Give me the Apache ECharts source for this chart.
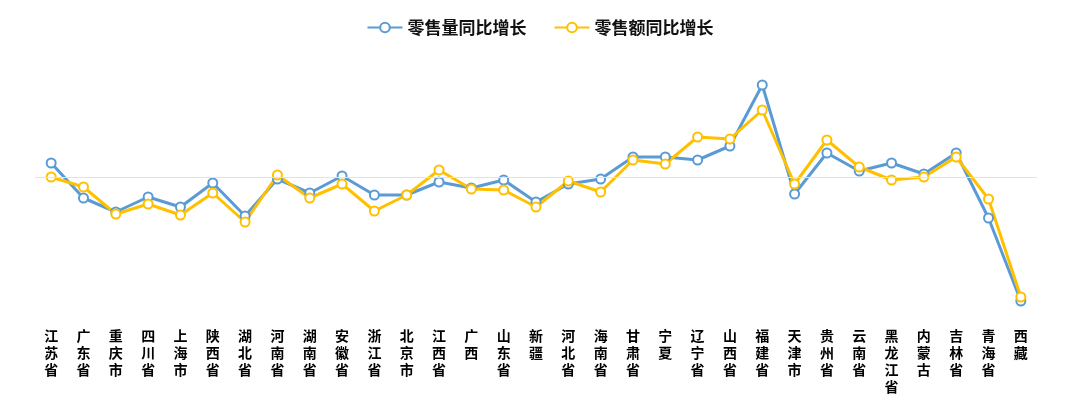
<!DOCTYPE html>
<html>
<head>
<meta charset="utf-8">
<script src="https://cdn.jsdelivr.net/npm/echarts@6/dist/echarts.min.js"></script>
<style>html,body{margin:0;padding:0;background:#fff;}#c{width:1080px;height:412px;}</style>
</head>
<body>
<div id="c"></div>
<script>
const categories = ['江苏省','广东省','重庆市','四川省','上海市','陕西省','湖北省','河南省','湖南省','安徽省','浙江省','北京市','江西省','广西','山东省','新疆','河北省','海南省','甘肃省','宁夏','辽宁省','山西省','福建省','天津市','贵州省','云南省','黑龙江省','内蒙古','吉林省','青海省','西藏'];
const volumeGrowth = [1.4,-2.1,-3.5,-2.0,-3.0,-0.6,-3.9,-0.2,-1.6,0.1,-1.8,-1.8,-0.5,-1.1,-0.3,-2.5,-0.7,-0.2,2.0,2.0,1.7,3.1,9.2,-1.7,2.4,0.6,1.4,0.3,2.4,-4.1,-12.4];
const amountGrowth = [0.0,-1.0,-3.7,-2.7,-3.8,-1.6,-4.5,0.2,-2.1,-0.7,-3.4,-1.8,0.7,-1.2,-1.3,-3.0,-0.4,-1.5,1.7,1.3,4.0,3.8,6.7,-0.7,3.7,1.0,-0.3,0.0,2.0,-2.2,-12.0];
const seriesNames = ['零售量同比增长','零售额同比增长'];

const chart = echarts.init(document.getElementById('c'));
const font = '"Noto Sans CJK SC", "Noto Sans", sans-serif';
chart.setOption({
  animation: false,
  color: ['#5B9BD5', '#FFC000'],
  legend: {
    top: 14,
    left: 'center',
    itemWidth: 35,
    itemHeight: 12,
    itemGap: 27,
    textStyle: { fontFamily: font, fontSize: 17, fontWeight: 'bold', color: '#111' },
    data: seriesNames
  },
  grid: { left: 35, right: 43, top: 37, bottom: 95 },
  xAxis: {
    type: 'category',
    data: categories,
    axisLine: { show: false },
    axisTick: { show: false },
    axisLabel: {
      interval: 0,
      margin: 10,
      fontFamily: font,
      fontSize: 14,
      fontWeight: 'bold',
      color: '#000',
      lineHeight: 17,
      formatter: v => v.split('').join('\n'),
      verticalAlign: 'top'
    }
  },
  yAxis: {
    type: 'value',
    min: -14, max: 14, interval: 14,
    axisLabel: { show: false },
    axisLine: { show: false },
    axisTick: { show: false },
    splitLine: { show: false }
  },
  series: [
    {
      name: seriesNames[0], type: 'line', data: volumeGrowth,
      symbol: 'emptyCircle', symbolSize: 9,
      lineStyle: { width: 3 },
      itemStyle: { borderWidth: 2.5 },
      markLine: {
        silent: true, symbol: 'none', label: { show: false },
        lineStyle: { color: '#e3e3e3', type: 'solid', width: 1 },
        data: [{ yAxis: 0 }]
      }
    },
    {
      name: seriesNames[1], type: 'line', data: amountGrowth,
      symbol: 'emptyCircle', symbolSize: 9,
      lineStyle: { width: 3 },
      itemStyle: { borderWidth: 2.5 }
    }
  ]
});
</script>
</body>
</html>
